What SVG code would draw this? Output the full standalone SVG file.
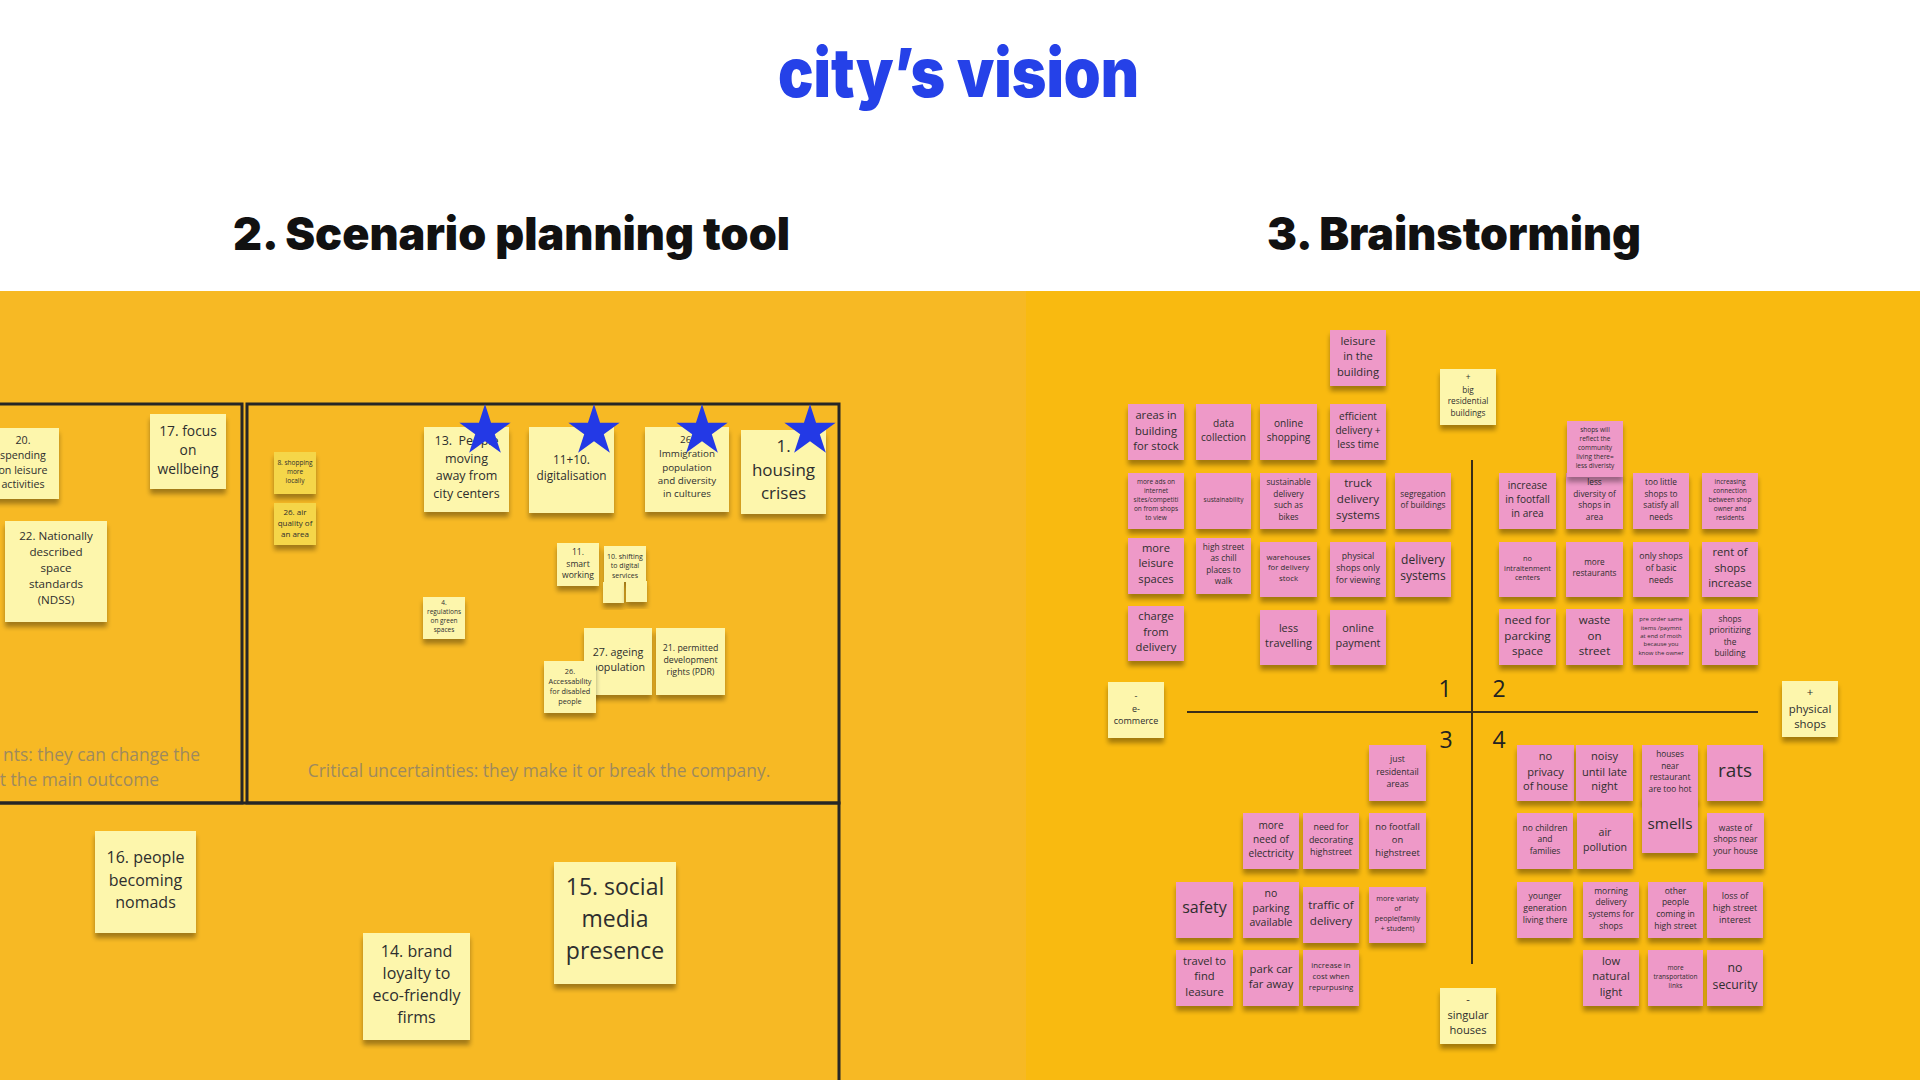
<svg xmlns="http://www.w3.org/2000/svg" width="1920" height="1080" viewBox="0 0 1920 1080">
<defs>
<filter id="sh" x="-20%" y="-20%" width="140%" height="150%">
<feGaussianBlur in="SourceAlpha" stdDeviation="2.5"/>
<feOffset dy="5" result="o"/>
<feComponentTransfer><feFuncA type="linear" slope="0.35"/></feComponentTransfer>
<feMerge><feMergeNode/><feMergeNode in="SourceGraphic"/></feMerge>
</filter>
<path id="star" d="M0,-27 L6.05,-8.33 L25.68,-8.34 L9.8,3.18 L15.87,21.84 L0,10.3 L-15.87,21.84 L-9.8,3.18 L-25.68,-8.34 L-6.05,-8.33 Z"/>
</defs>
<style>
.pk{fill:#EE99C8;filter:url(#sh)}
.yl{fill:#FDF6AC;filter:url(#sh)}
.dy{fill:#F5D64A;filter:url(#sh)}
.t{font-family:"Open Sans","Noto Sans","Liberation Sans",sans-serif;fill:#2e2e2e;text-anchor:middle}
.h{font-family:Inter,"Liberation Sans",sans-serif;font-weight:900}
.frame{fill:none;stroke:#262626;stroke-width:3}
.axis{fill:none;stroke:#3a2e18;stroke-width:2}
.note{font-family:"Open Sans","Noto Sans",sans-serif;fill:#9E8A5E;font-size:17.4px}
.qn{font-family:"Open Sans","Noto Sans",sans-serif;fill:#222;font-size:23px;text-anchor:middle}
.star{fill:#2339E6}
</style>
<rect x="0" y="0" width="1920" height="1080" fill="#ffffff"/>
<rect x="0" y="291" width="1026" height="789" fill="#F7B924"/>
<rect x="1026" y="291" width="894" height="789" fill="#F9BA10"/>

<g id="headings">
<text class="h" x="778" y="97" font-size="68" fill="#2541E8" textLength="361" lengthAdjust="spacingAndGlyphs">city’s vision</text>
<text class="h" x="233" y="250" font-size="45" fill="#111" textLength="557" lengthAdjust="spacingAndGlyphs">2. Scenario planning tool</text>
<text class="h" x="1267" y="250" font-size="45" fill="#111" textLength="374" lengthAdjust="spacingAndGlyphs">3. Brainstorming</text>
</g>

<g id="frames">
<path class="frame" d="M0,404 H242 V803 H0"/>
<rect class="frame" x="247" y="404" width="592" height="399"/>
<path class="frame" d="M0,803 H839 V1085"/>
<text class="note" x="200" y="761" text-anchor="end">nts: they can change the</text>
<text class="note" x="159" y="786" text-anchor="end">t the main outcome</text>
<text class="note" x="539" y="777" text-anchor="middle">Critical uncertainties: they make it or break the company.</text>
</g>

<g id="axes">
<line class="axis" x1="1472" y1="460" x2="1472" y2="964"/>
<line class="axis" x1="1187" y1="712" x2="1758" y2="712"/>
<text class="qn" x="1445" y="697">1</text>
<text class="qn" x="1499" y="697">2</text>
<text class="qn" x="1446" y="748">3</text>
<text class="qn" x="1499" y="748">4</text>
</g>

<!-- left panel notes -->
<g id="n20"><rect class="yl" x="-14" y="428" width="73" height="71"/><text class="t" font-size="10.7"><tspan x="23" y="443.7">20.</tspan><tspan x="23" y="458.7">spending</tspan><tspan x="23" y="473.7">on leisure</tspan><tspan x="23" y="488">activities</tspan></text></g>
<g id="n17"><rect class="yl" x="150" y="414" width="76" height="75"/><text class="t" font-size="13.8"><tspan x="188" y="435.5">17. focus</tspan><tspan x="188" y="454.5">on</tspan><tspan x="188" y="473.5">wellbeing</tspan></text></g>
<g id="n22"><rect class="yl" x="5" y="521" width="102" height="101"/><text class="t" font-size="11.6"><tspan x="56" y="540">22. Nationally</tspan><tspan x="56" y="556">described</tspan><tspan x="56" y="572">space</tspan><tspan x="56" y="588">standards</tspan><tspan x="56" y="604">(NDSS)</tspan></text></g>
<g id="n8"><rect class="dy" x="274" y="452" width="42" height="42"/><text class="t" font-size="6.5"><tspan x="295" y="464.6">8. shopping</tspan><tspan x="295" y="473.6">more</tspan><tspan x="295" y="482.6">locally</tspan></text></g>
<g id="n26air"><rect class="dy" x="274" y="503" width="42" height="42"/><text class="t" font-size="8"><tspan x="295" y="515.1">26. air</tspan><tspan x="295" y="526.1">quality of</tspan><tspan x="295" y="536.8">an area</tspan></text></g>
<g id="n13"><rect class="yl" x="424" y="427" width="85" height="85"/><text class="t" font-size="12.5"><tspan x="466.5" y="445.4">13.&#160; People</tspan><tspan x="466.5" y="463.4">moving</tspan><tspan x="466.5" y="480.4">away from</tspan><tspan x="466.5" y="497.7">city centers</tspan></text></g>
<g id="n1110"><rect class="yl" x="529" y="427" width="85" height="86"/><text class="t" font-size="11.8"><tspan x="571.5" y="464.1">11+10.</tspan><tspan x="571.5" y="480.4">digitalisation</tspan></text></g>
<g id="n26imm"><rect class="yl" x="645" y="427" width="84" height="85"/><text class="t" font-size="9.8"><tspan x="687" y="443.4">26.</tspan><tspan x="687" y="457.4">Immigration</tspan><tspan x="687" y="470.7">population</tspan><tspan x="687" y="484.4">and diversity</tspan><tspan x="687" y="497.4">in cultures</tspan></text></g>
<g id="n1"><rect class="yl" x="741" y="430" width="85" height="84"/><text class="t" font-size="17"><tspan x="783.5" y="451.7">1.</tspan><tspan x="783.5" y="476">housing</tspan><tspan x="783.5" y="498.7">crises</tspan></text></g>
<g id="stars">
<use href="#star" class="star" x="485" y="431"/>
<use href="#star" class="star" x="594" y="431"/>
<use href="#star" class="star" x="702" y="431"/>
<use href="#star" class="star" x="810" y="431"/>
</g>
<g id="n11"><rect class="yl" x="557" y="543" width="42" height="43"/><text class="t" font-size="8.6"><tspan x="578" y="554.7">11.</tspan><tspan x="578" y="566.7">smart</tspan><tspan x="578" y="578.3">working</tspan></text></g>
<g id="n10"><rect class="yl" x="604" y="546" width="42" height="36"/><text class="t" font-size="7"><tspan x="625" y="558.5">10. shifting</tspan><tspan x="625" y="568.2">to  digital</tspan><tspan x="625" y="577.5">services</tspan></text></g>
<g id="n10a"><rect class="yl" x="603" y="582" width="21" height="21"/></g>
<g id="n10b"><rect class="yl" x="626" y="581" width="21" height="21"/></g>
<g id="n4"><rect class="yl" x="423" y="597" width="42" height="42"/><text class="t" font-size="6.5"><tspan x="444" y="605.3">4.</tspan><tspan x="444" y="614.3">regulations</tspan><tspan x="444" y="623.3">on green</tspan><tspan x="444" y="632.3">spaces</tspan></text></g>
<g id="n27"><rect class="yl" x="584" y="628" width="68" height="67"/><text class="t" font-size="10.7"><tspan x="618" y="656">27. ageing</tspan><tspan x="618" y="670.7">population</tspan></text></g>
<g id="n21"><rect class="yl" x="656" y="628" width="69" height="67"/><text class="t" font-size="8.8"><tspan x="690.5" y="650.8">21. permitted</tspan><tspan x="690.5" y="663.1">development</tspan><tspan x="690.5" y="675.1">rights (PDR)</tspan></text></g>
<g id="n26acc"><rect class="yl" x="544" y="661" width="52" height="52"/><text class="t" font-size="7.3"><tspan x="570" y="673.6">26.</tspan><tspan x="570" y="683.9">Accessability</tspan><tspan x="570" y="693.9">for disabled</tspan><tspan x="570" y="703.9">people</tspan></text></g>
<g id="n16"><rect class="yl" x="95" y="831" width="101" height="102"/><text class="t" font-size="16"><tspan x="145.5" y="862.9">16. people</tspan><tspan x="145.5" y="885.6">becoming</tspan><tspan x="145.5" y="907.6">nomads</tspan></text></g>
<g id="n14"><rect class="yl" x="363" y="933" width="107" height="107"/><text class="t" font-size="16"><tspan x="416.5" y="956.9">14. brand</tspan><tspan x="416.5" y="978.9">loyalty to</tspan><tspan x="416.5" y="1001.3">eco-friendly</tspan><tspan x="416.5" y="1023.3">firms</tspan></text></g>
<g id="n15"><rect class="yl" x="554" y="862" width="122" height="122"/><text class="t" font-size="23"><tspan x="615" y="894.7">15. social</tspan><tspan x="615" y="927.3">media</tspan><tspan x="615" y="959.3">presence</tspan></text></g>

<!-- right panel notes -->
<g id="b-leisure-building"><rect class="pk" x="1330" y="330" width="56" height="56"/><text class="t" font-size="11.2"><tspan x="1358" y="344.6">leisure</tspan><tspan x="1358" y="359.9">in the</tspan><tspan x="1358" y="375.6">building</tspan></text></g>
<g id="b-big-residential"><rect class="yl" x="1440" y="369" width="56" height="56"/><text class="t" font-size="8.3"><tspan x="1468" y="380.2">+</tspan><tspan x="1468" y="392.6">big</tspan><tspan x="1468" y="403.9">residential</tspan><tspan x="1468" y="415.6">buildings</tspan></text></g>
<g id="b-areas-stock"><rect class="pk" x="1128" y="404" width="56" height="56"/><text class="t" font-size="11.2"><tspan x="1156" y="418.9">areas in</tspan><tspan x="1156" y="434.6">building</tspan><tspan x="1156" y="449.9">for stock</tspan></text></g>
<g id="b-data"><rect class="pk" x="1196" y="404" width="55" height="56"/><text class="t" font-size="10.1"><tspan x="1223.5" y="427.2">data</tspan><tspan x="1223.5" y="441.2">collection</tspan></text></g>
<g id="b-online-shopping"><rect class="pk" x="1260" y="404" width="57" height="56"/><text class="t" font-size="10.1"><tspan x="1288.5" y="427.2">online</tspan><tspan x="1288.5" y="441.2">shopping</tspan></text></g>
<g id="b-efficient"><rect class="pk" x="1330" y="404" width="56" height="56"/><text class="t" font-size="10.1"><tspan x="1358" y="420.2">efficient</tspan><tspan x="1358" y="434.2">delivery +</tspan><tspan x="1358" y="448.2">less time</tspan></text></g>
<g id="b-ads"><rect class="pk" x="1128" y="473" width="56" height="56"/><text class="t" font-size="6.5"><tspan x="1156" y="483.6">more ads on</tspan><tspan x="1156" y="492.6">internet</tspan><tspan x="1156" y="501.6">sites/competiti</tspan><tspan x="1156" y="510.6">on from shops</tspan><tspan x="1156" y="519.6">to view</tspan></text></g>
<g id="b-sustainability"><rect class="pk" x="1196" y="473" width="55" height="56"/><text class="t" font-size="6.5"><tspan x="1223.5" y="501.6">sustainability</tspan></text></g>
<g id="b-sust-delivery"><rect class="pk" x="1260" y="473" width="57" height="56"/><text class="t" font-size="8.3"><tspan x="1288.5" y="484.9">sustainable</tspan><tspan x="1288.5" y="496.6">delivery</tspan><tspan x="1288.5" y="507.9">such as</tspan><tspan x="1288.5" y="519.6">bikes</tspan></text></g>
<g id="b-truck"><rect class="pk" x="1330" y="473" width="56" height="56"/><text class="t" font-size="11.6"><tspan x="1358" y="487.4">truck</tspan><tspan x="1358" y="503.1">delivery</tspan><tspan x="1358" y="519.1">systems</tspan></text></g>
<g id="b-segregation"><rect class="pk" x="1395" y="473" width="56" height="56"/><text class="t" font-size="8.3"><tspan x="1423" y="496.6">segregation</tspan><tspan x="1423" y="507.9">of buildings</tspan></text></g>
<g id="b-more-leisure"><rect class="pk" x="1128" y="538" width="56" height="56"/><text class="t" font-size="11.2"><tspan x="1156" y="551.9">more</tspan><tspan x="1156" y="567.2">leisure</tspan><tspan x="1156" y="582.9">spaces</tspan></text></g>
<g id="b-high-street-chill"><rect class="pk" x="1196" y="538" width="55" height="56"/><text class="t" font-size="8.3"><tspan x="1223.5" y="549.6">high street</tspan><tspan x="1223.5" y="560.9">as chill</tspan><tspan x="1223.5" y="572.6">places to</tspan><tspan x="1223.5" y="583.9">walk</tspan></text></g>
<g id="b-warehouses"><rect class="pk" x="1260" y="542" width="57" height="55"/><text class="t" font-size="7.8"><tspan x="1288.5" y="559.7">warehouses</tspan><tspan x="1288.5" y="570.4">for delivery</tspan><tspan x="1288.5" y="581">stock</tspan></text></g>
<g id="b-physical-viewing"><rect class="pk" x="1330" y="542" width="56" height="55"/><text class="t" font-size="8.7"><tspan x="1358" y="558.7">physical</tspan><tspan x="1358" y="571">shops only</tspan><tspan x="1358" y="582.7">for viewing</tspan></text></g>
<g id="b-delivery-systems"><rect class="pk" x="1395" y="542" width="56" height="55"/><text class="t" font-size="12"><tspan x="1423" y="563.5">delivery</tspan><tspan x="1423" y="580.2">systems</tspan></text></g>
<g id="b-charge"><rect class="pk" x="1128" y="606" width="56" height="55"/><text class="t" font-size="11.2"><tspan x="1156" y="619.9">charge</tspan><tspan x="1156" y="635.6">from</tspan><tspan x="1156" y="651.2">delivery</tspan></text></g>
<g id="b-less-travelling"><rect class="pk" x="1260" y="610" width="57" height="55"/><text class="t" font-size="10.9"><tspan x="1288.5" y="631.8">less</tspan><tspan x="1288.5" y="646.8">travelling</tspan></text></g>
<g id="b-online-payment"><rect class="pk" x="1330" y="610" width="56" height="55"/><text class="t" font-size="10.9"><tspan x="1358" y="631.8">online</tspan><tspan x="1358" y="646.8">payment</tspan></text></g>

<g id="b-less-diversity"><rect class="pk" x="1566" y="473" width="57" height="56"/><text class="t" font-size="8.3"><tspan x="1594.5" y="484.9">less</tspan><tspan x="1594.5" y="496.6">diversity of</tspan><tspan x="1594.5" y="508.2">shops in</tspan><tspan x="1594.5" y="519.9">area</tspan></text></g>
<g id="b-reflect"><rect class="pk" x="1567" y="421" width="56" height="56"/><text class="t" font-size="6.5"><tspan x="1595" y="432">shops will</tspan><tspan x="1595" y="441">reflect the</tspan><tspan x="1595" y="450">community</tspan><tspan x="1595" y="459">living there=</tspan><tspan x="1595" y="468">less diveristy</tspan></text></g>
<g id="b-footfall"><rect class="pk" x="1499" y="473" width="57" height="56"/><text class="t" font-size="10.1"><tspan x="1527.5" y="488.8">increase</tspan><tspan x="1527.5" y="502.8">in footfall</tspan><tspan x="1527.5" y="516.8">in area</tspan></text></g>
<g id="b-too-little"><rect class="pk" x="1633" y="473" width="56" height="56"/><text class="t" font-size="8.3"><tspan x="1661" y="484.9">too little</tspan><tspan x="1661" y="496.6">shops to</tspan><tspan x="1661" y="508.2">satisfy all</tspan><tspan x="1661" y="519.9">needs</tspan></text></g>
<g id="b-connection"><rect class="pk" x="1702" y="473" width="56" height="56"/><text class="t" font-size="6.5"><tspan x="1730" y="483.6">increasing</tspan><tspan x="1730" y="492.6">connection</tspan><tspan x="1730" y="501.6">between shop</tspan><tspan x="1730" y="510.6">owner and</tspan><tspan x="1730" y="519.6">residents</tspan></text></g>
<g id="b-entertainment"><rect class="pk" x="1499" y="542" width="57" height="55"/><text class="t" font-size="7.3"><tspan x="1527.5" y="560.6">no</tspan><tspan x="1527.5" y="570.6">intraitenment</tspan><tspan x="1527.5" y="580.3">centers</tspan></text></g>
<g id="b-restaurants"><rect class="pk" x="1566" y="542" width="57" height="55"/><text class="t" font-size="8.2"><tspan x="1594.5" y="564.9">more</tspan><tspan x="1594.5" y="576.2">restaurants</tspan></text></g>
<g id="b-basic-needs"><rect class="pk" x="1633" y="542" width="56" height="55"/><text class="t" font-size="8.7"><tspan x="1661" y="558.7">only shops</tspan><tspan x="1661" y="570.7">of basic</tspan><tspan x="1661" y="583">needs</tspan></text></g>
<g id="b-rent"><rect class="pk" x="1702" y="542" width="56" height="55"/><text class="t" font-size="11.2"><tspan x="1730" y="555.6">rent of</tspan><tspan x="1730" y="571.6">shops</tspan><tspan x="1730" y="586.6">increase</tspan></text></g>
<g id="b-parking-space"><rect class="pk" x="1499" y="609" width="57" height="56"/><text class="t" font-size="11.6"><tspan x="1527.5" y="623.8">need for</tspan><tspan x="1527.5" y="639.8">parcking</tspan><tspan x="1527.5" y="655.4">space</tspan></text></g>
<g id="b-waste-street"><rect class="pk" x="1566" y="609" width="57" height="56"/><text class="t" font-size="11.6"><tspan x="1594.5" y="623.8">waste</tspan><tspan x="1594.5" y="639.8">on</tspan><tspan x="1594.5" y="655.4">street</tspan></text></g>
<g id="b-pre-order"><rect class="pk" x="1633" y="609" width="56" height="56"/><text class="t" font-size="6"><tspan x="1661" y="621.4">pre order same</tspan><tspan x="1661" y="629.8">items /paymnt</tspan><tspan x="1661" y="638.1">at end of moth</tspan><tspan x="1661" y="646.4">because you</tspan><tspan x="1661" y="654.8">know the owner</tspan></text></g>
<g id="b-prioritizing"><rect class="pk" x="1702" y="609" width="56" height="56"/><text class="t" font-size="8.3"><tspan x="1730" y="621.6">shops</tspan><tspan x="1730" y="633.2">prioritizing</tspan><tspan x="1730" y="644.6">the</tspan><tspan x="1730" y="656.2">building</tspan></text></g>

<g id="b-ecommerce"><rect class="yl" x="1108" y="682" width="56" height="56"/><text class="t" font-size="9"><tspan x="1136" y="699.2">-</tspan><tspan x="1136" y="711.9">e-</tspan><tspan x="1136" y="724.2">commerce</tspan></text></g>
<g id="b-physical-shops"><rect class="yl" x="1782" y="681" width="56" height="56"/><text class="t" font-size="11.4"><tspan x="1810" y="696.3">+</tspan><tspan x="1810" y="712.7">physical</tspan><tspan x="1810" y="728">shops</tspan></text></g>
<g id="b-singular-houses"><rect class="yl" x="1440" y="988" width="56" height="56"/><text class="t" font-size="11.1"><tspan x="1468" y="1003.2">-</tspan><tspan x="1468" y="1018.6">singular</tspan><tspan x="1468" y="1033.9">houses</tspan></text></g>

<g id="b-residential-areas"><rect class="pk" x="1369" y="745" width="57" height="56"/><text class="t" font-size="8.7"><tspan x="1397.5" y="762.3">just</tspan><tspan x="1397.5" y="774.7">residentail</tspan><tspan x="1397.5" y="786.7">areas</tspan></text></g>
<g id="b-electricity"><rect class="pk" x="1243" y="813" width="56" height="56"/><text class="t" font-size="10.1"><tspan x="1271" y="829.2">more</tspan><tspan x="1271" y="843.2">need of</tspan><tspan x="1271" y="857.2">electricity</tspan></text></g>
<g id="b-decorating"><rect class="pk" x="1303" y="813" width="56" height="56"/><text class="t" font-size="8.9"><tspan x="1331" y="830.4">need for</tspan><tspan x="1331" y="842.8">decorating</tspan><tspan x="1331" y="855.1">highstreet</tspan></text></g>
<g id="b-no-footfall"><rect class="pk" x="1369" y="813" width="57" height="56"/><text class="t" font-size="9.4"><tspan x="1397.5" y="830">no footfall</tspan><tspan x="1397.5" y="843">on</tspan><tspan x="1397.5" y="856">highstreet</tspan></text></g>
<g id="b-safety"><rect class="pk" x="1176" y="882" width="57" height="56"/><text class="t" font-size="16"><tspan x="1204.5" y="913.3">safety</tspan></text></g>
<g id="b-no-parking"><rect class="pk" x="1243" y="882" width="56" height="56"/><text class="t" font-size="10.5"><tspan x="1271" y="897">no</tspan><tspan x="1271" y="911.7">parking</tspan><tspan x="1271" y="926">available</tspan></text></g>
<g id="b-traffic"><rect class="pk" x="1303" y="887" width="56" height="56"/><text class="t" font-size="11.6"><tspan x="1331" y="909">traffic of</tspan><tspan x="1331" y="925">delivery</tspan></text></g>
<g id="b-variaty"><rect class="pk" x="1369" y="887" width="57" height="56"/><text class="t" font-size="7.2"><tspan x="1397.5" y="901.2">more variaty</tspan><tspan x="1397.5" y="910.8">of</tspan><tspan x="1397.5" y="921.2">people(family</tspan><tspan x="1397.5" y="931.2">+ student)</tspan></text></g>
<g id="b-travel"><rect class="pk" x="1176" y="950" width="57" height="56"/><text class="t" font-size="11.2"><tspan x="1204.5" y="964.6">travel to</tspan><tspan x="1204.5" y="979.9">find</tspan><tspan x="1204.5" y="995.6">leasure</tspan></text></g>
<g id="b-park-car"><rect class="pk" x="1243" y="950" width="56" height="56"/><text class="t" font-size="11.3"><tspan x="1271" y="972.6">park car</tspan><tspan x="1271" y="988.2">far away</tspan></text></g>
<g id="b-cost"><rect class="pk" x="1303" y="950" width="56" height="56"/><text class="t" font-size="7.8"><tspan x="1331" y="968.4">increase in</tspan><tspan x="1331" y="979">cost when</tspan><tspan x="1331" y="990">repurpusing</tspan></text></g>

<g id="b-privacy"><rect class="pk" x="1517" y="745" width="57" height="56"/><text class="t" font-size="11.1"><tspan x="1545.5" y="759.6">no</tspan><tspan x="1545.5" y="775.6">privacy</tspan><tspan x="1545.5" y="790.2">of house</tspan></text></g>
<g id="b-noisy"><rect class="pk" x="1576" y="745" width="57" height="56"/><text class="t" font-size="11.1"><tspan x="1604.5" y="759.6">noisy</tspan><tspan x="1604.5" y="775.6">until late</tspan><tspan x="1604.5" y="790.2">night</tspan></text></g>
<g id="b-too-hot"><rect class="pk" x="1642" y="745" width="56" height="56"/><text class="t" font-size="8.3"><tspan x="1670" y="756.9">houses</tspan><tspan x="1670" y="768.9">near</tspan><tspan x="1670" y="779.9">restaurant</tspan><tspan x="1670" y="791.6">are too hot</tspan></text></g>
<g id="b-rats"><rect class="pk" x="1707" y="745" width="56" height="56"/><text class="t" font-size="19"><tspan x="1735" y="777.3">rats</tspan></text></g>
<g id="b-no-children"><rect class="pk" x="1517" y="813" width="56" height="56"/><text class="t" font-size="8.5"><tspan x="1545" y="830.7">no children</tspan><tspan x="1545" y="842.3">and</tspan><tspan x="1545" y="854">families</tspan></text></g>
<g id="b-air-pollution"><rect class="pk" x="1577" y="813" width="56" height="56"/><text class="t" font-size="10.6"><tspan x="1605" y="836">air</tspan><tspan x="1605" y="850.7">pollution</tspan></text></g>
<g id="b-smells"><rect class="pk" x="1642" y="797" width="56" height="56"/><text class="t" font-size="15.3"><tspan x="1670" y="828.7">smells</tspan></text></g>
<g id="b-waste-house"><rect class="pk" x="1707" y="813" width="57" height="56"/><text class="t" font-size="8.5"><tspan x="1735.5" y="830.7">waste of</tspan><tspan x="1735.5" y="842.3">shops near</tspan><tspan x="1735.5" y="854">your house</tspan></text></g>
<g id="b-younger"><rect class="pk" x="1517" y="882" width="56" height="56"/><text class="t" font-size="8.6"><tspan x="1545" y="899.3">younger</tspan><tspan x="1545" y="911">generation</tspan><tspan x="1545" y="923">living there</tspan></text></g>
<g id="b-morning"><rect class="pk" x="1583" y="882" width="56" height="56"/><text class="t" font-size="8.5"><tspan x="1611" y="893.7">morning</tspan><tspan x="1611" y="905.3">delivery</tspan><tspan x="1611" y="917">systems for</tspan><tspan x="1611" y="928.7">shops</tspan></text></g>
<g id="b-other-people"><rect class="pk" x="1648" y="882" width="55" height="56"/><text class="t" font-size="8.5"><tspan x="1675.5" y="893.7">other</tspan><tspan x="1675.5" y="905.3">people</tspan><tspan x="1675.5" y="917">coming in</tspan><tspan x="1675.5" y="928.7">high street</tspan></text></g>
<g id="b-loss"><rect class="pk" x="1707" y="882" width="56" height="56"/><text class="t" font-size="8.9"><tspan x="1735" y="898.8">loss of</tspan><tspan x="1735" y="911.1">high street</tspan><tspan x="1735" y="923.4">interest</tspan></text></g>
<g id="b-low-light"><rect class="pk" x="1583" y="950" width="56" height="56"/><text class="t" font-size="11.2"><tspan x="1611" y="964.6">low</tspan><tspan x="1611" y="980.2">natural</tspan><tspan x="1611" y="995.6">light</tspan></text></g>
<g id="b-transport"><rect class="pk" x="1648" y="950" width="55" height="56"/><text class="t" font-size="6.5"><tspan x="1675.5" y="970">more</tspan><tspan x="1675.5" y="979">transportation</tspan><tspan x="1675.5" y="988">links</tspan></text></g>
<g id="b-security"><rect class="pk" x="1707" y="950" width="56" height="56"/><text class="t" font-size="12.3"><tspan x="1735" y="972.3">no</tspan><tspan x="1735" y="989.3">security</tspan></text></g>
</svg>
